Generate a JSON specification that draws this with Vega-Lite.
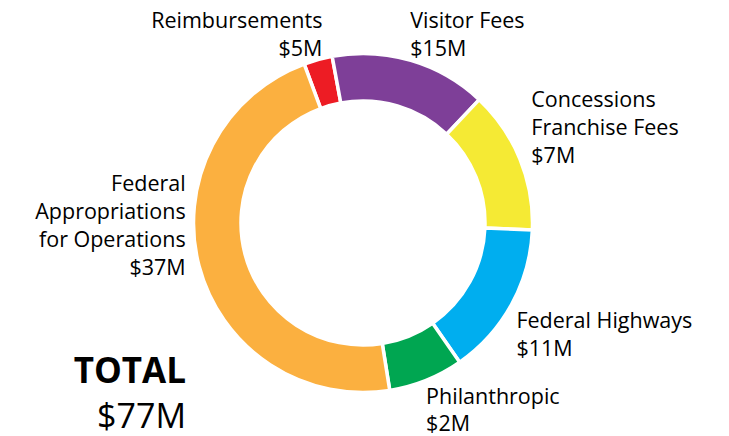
{
  "$schema": "https://vega.github.io/schema/vega-lite/v6.json",
  "width": 729,
  "height": 436,
  "autosize": {"type": "fit", "contains": "padding"},
  "padding": {"left": 0, "right": 3, "top": 10, "bottom": 0},
  "background": "white",
  "config": {"view": {"stroke": null}},
  "title": {
    "text": "TOTAL",
    "subtitle": "$77M",
    "orient": "bottom",
    "anchor": "start",
    "frame": "group",
    "align": "right",
    "dx": 186,
    "offset": -81,
    "font": "Open Sans",
    "fontSize": 35,
    "fontWeight": "bold",
    "color": "black",
    "subtitleFont": "Open Sans",
    "subtitleFontSize": 34,
    "subtitleFontWeight": "normal",
    "subtitleColor": "black",
    "subtitlePadding": 10.5
  },
  "data": {
    "values": [
      {"rank": 1, "category": "Reimbursements", "value": 2.1, "label": ["Reimbursements", "$5M"]},
      {"rank": 2, "category": "Visitor Fees", "value": 11.5, "label": ["Visitor Fees", "$15M"]},
      {"rank": 3, "category": "Concessions Franchise Fees", "value": 10.5, "label": ["Concessions", "Franchise Fees", "$7M"]},
      {"rank": 4, "category": "Federal Highways", "value": 11.3, "label": ["Federal Highways", "$11M"]},
      {"rank": 5, "category": "Philanthropic", "value": 5.5, "label": ["Philanthropic", "$2M"]},
      {"rank": 6, "category": "Federal Appropriations for Operations", "value": 36.1, "label": ["Federal", "Appropriations", "for Operations", "$37M"]}
    ]
  },
  "encoding": {
    "theta": {"field": "value", "type": "quantitative", "stack": true, "scale": {"range": [-0.3543, 5.9289]}},
    "order": {"field": "rank", "type": "quantitative"}
  },
  "layer": [
    {
      "mark": {"type": "arc", "outerRadius": 169.5, "innerRadius": 122, "stroke": "white", "strokeWidth": 3.5},
      "encoding": {
        "color": {
          "field": "category",
          "type": "nominal",
          "scale": {
            "domain": ["Reimbursements", "Visitor Fees", "Concessions Franchise Fees", "Federal Highways", "Philanthropic", "Federal Appropriations for Operations"],
            "range": ["#ED1C24", "#7E3F98", "#F5EA34", "#00AEEF", "#00A651", "#FBB040"]
          },
          "legend": null
        }
      }
    },
    {
      "mark": {
        "type": "text",
        "radius": 185,
        "font": "Open Sans",
        "fontSize": 21.5,
        "lineHeight": 27.7,
        "color": "black",
        "baseline": "alphabetic",
        "align": {"expr": "datum.rank == 1 || datum.rank == 6 ? 'right' : 'left'"},
        "dx": {"expr": "datum.rank == 1 ? 8.5 : datum.rank == 2 ? -5 : datum.rank == 3 ? -3 : datum.rank == 4 ? -8.7 : datum.rank == 5 ? -6 : 1.6"},
        "dy": {"expr": "datum.rank == 1 ? -16.2 : datum.rank == 2 ? -17.5 : datum.rank == 3 ? -45.8 : datum.rank == 4 ? 16.1 : datum.rank == 5 ? 9 : -78.5"}
      },
      "encoding": {
        "text": {"field": "label"},
        "detail": {"field": "category", "type": "nominal"}
      }
    }
  ]
}
